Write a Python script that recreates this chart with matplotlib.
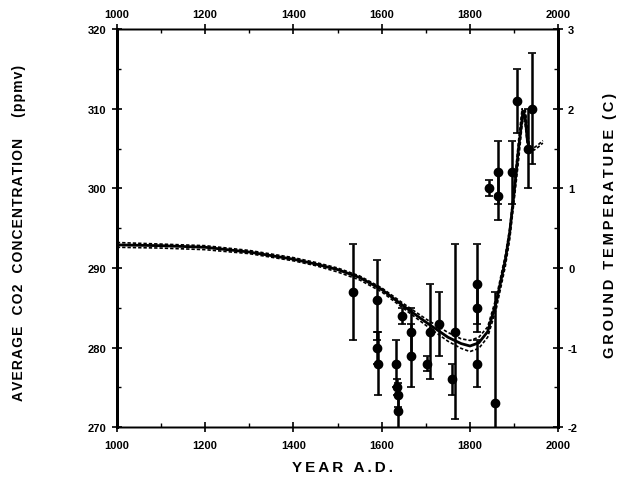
import numpy as np
import matplotlib
matplotlib.use('Agg')
import matplotlib.pyplot as plt
from matplotlib.ticker import MultipleLocator

plt.rcParams['font.family'] = ['Liberation Sans', 'DejaVu Sans']
plt.rcParams['font.weight'] = 'bold'
plt.rcParams['axes.unicode_minus'] = False

# ice-core CO2 samples (year, ppmv, error)
pt_year = [1535, 1590, 1590, 1592, 1646, 1632, 1635, 1637, 1638, 1667, 1667,
           1703, 1710, 1730, 1760, 1766, 1816, 1816, 1816, 1857, 1844, 1864,
           1864, 1896, 1907, 1932, 1941]
pt_co2 = [287, 286, 280, 278, 284, 278, 275, 274, 272, 282, 279,
          278, 282, 283, 276, 282, 288, 285, 278, 273, 300, 302,
          299, 302, 311, 305, 310]
pt_err = [6, 5, 2, 4, 1, 3, 1, 1.5, 3, 3, 4,
          1, 6, 4, 2, 11, 5, 3, 3, 14, 1, 4,
          3, 4, 4, 5, 7]

# fitted curve (solid)
fit_year = [1000, 1100, 1200, 1300, 1400, 1450, 1500, 1550, 1600, 1650, 1700,
            1750, 1780, 1800, 1820, 1840, 1860, 1880, 1890, 1900, 1910, 1920,
            1925, 1930, 1935, 1940]
fit_co2 = [292.9, 292.8, 292.6, 292.0, 291.1, 290.5, 289.8, 288.8, 287.3, 285.2,
           283.2, 281.3, 280.5, 280.2, 280.6, 282.0, 285.8, 291.0, 294.5, 299.5,
           305.0, 309.7, 309.0, 306.0, 304.8, 305.0]

# bounds (dotted)
band_year = [1000, 1100, 1200, 1300, 1400, 1450, 1500, 1550, 1600, 1650, 1700,
             1750, 1780, 1800, 1820, 1840, 1860, 1880, 1890, 1900, 1910, 1918,
             1925, 1930, 1935, 1945, 1955, 1965]
band_hi = [293.2, 293.0, 292.8, 292.2, 291.3, 290.7, 290.0, 289.0, 287.5, 285.5,
           283.6, 281.9, 281.1, 280.9, 281.3, 282.6, 286.4, 291.6, 295.0, 300.2,
           306.0, 310.0, 308.0, 305.5, 304.8, 305.1, 305.5, 306.0]
band_lo = [292.6, 292.5, 292.3, 291.8, 290.9, 290.3, 289.5, 288.5, 287.0, 284.9,
           282.8, 280.8, 279.9, 279.5, 279.9, 281.3, 285.0, 290.2, 293.6, 298.5,
           303.5, 308.0, 310.0, 307.5, 305.0, 304.8, 305.2, 305.7]


def spaced(s, sp='\u2009'):
    # widen letter spacing like the scanned typeface
    return sp.join(s)


fig = plt.figure(figsize=(6.28, 5.02), dpi=100)
ax = fig.add_axes([0.186, 0.147, 0.703, 0.793])

ax.plot(band_year, band_hi, color='k', lw=1.2, ls=(0, (2, 1.2)))
ax.plot(band_year, band_lo, color='k', lw=1.2, ls=(0, (2, 1.2)))
ax.plot(fit_year, fit_co2, color='k', lw=2.0)
ax.errorbar(pt_year, pt_co2, yerr=pt_err, fmt='o', color='k', ms=6,
            elinewidth=1.8, capsize=3, capthick=1.2)

ax.set_xlim(1000, 2000)
ax.set_ylim(270, 320)
ax.xaxis.set_major_locator(MultipleLocator(200))
ax.xaxis.set_minor_locator(MultipleLocator(100))
ax.yaxis.set_major_locator(MultipleLocator(10))
ax.yaxis.set_minor_locator(MultipleLocator(5))
ax.tick_params(which='major', direction='inout', length=7, width=1.2, labelsize=8, pad=4)
ax.tick_params(which='minor', direction='in', length=3, width=1)
ax.tick_params(axis='x', pad=6)

ax2 = ax.twinx()
ax2.set_ylim(-2, 3)
ax2.yaxis.set_major_locator(MultipleLocator(1))
ax2.yaxis.set_minor_locator(MultipleLocator(0.5))
ax2.tick_params(which='major', direction='inout', length=7, width=1.2, labelsize=8)
ax2.tick_params(which='minor', direction='in', length=3, width=1)

ax3 = ax.twiny()
ax3.set_xlim(1000, 2000)
ax3.xaxis.set_major_locator(MultipleLocator(200))
ax3.xaxis.set_minor_locator(MultipleLocator(100))
ax3.tick_params(which='major', direction='inout', length=7, width=1.2, labelsize=8, pad=4)
ax3.tick_params(which='minor', direction='in', length=3, width=1)

for a in (ax, ax2, ax3):
    a.spines['left'].set_linewidth(2)
    a.spines['right'].set_linewidth(2)
    a.spines['top'].set_linewidth(1)
    a.spines['bottom'].set_linewidth(1)
    for lab in a.get_xticklabels() + a.get_yticklabels():
        lab.set_fontweight('bold')

fig.text(0.03, 0.535, spaced('AVERAGE  CO2  CONCENTRATION    (ppmv)', '\u200a'),
         rotation=90, ha='center', va='center', fontsize=10, fontweight='bold')
fig.text(0.972, 0.55, spaced('GROUND TEMPERATURE (C)'), rotation=90,
         ha='center', va='center', fontsize=10.5, fontweight='bold')
fig.text(0.545, 0.068, spaced('YEAR A.D.'), ha='center', va='center',
         fontsize=11, fontweight='bold')

fig.savefig('out.png', dpi=100)
